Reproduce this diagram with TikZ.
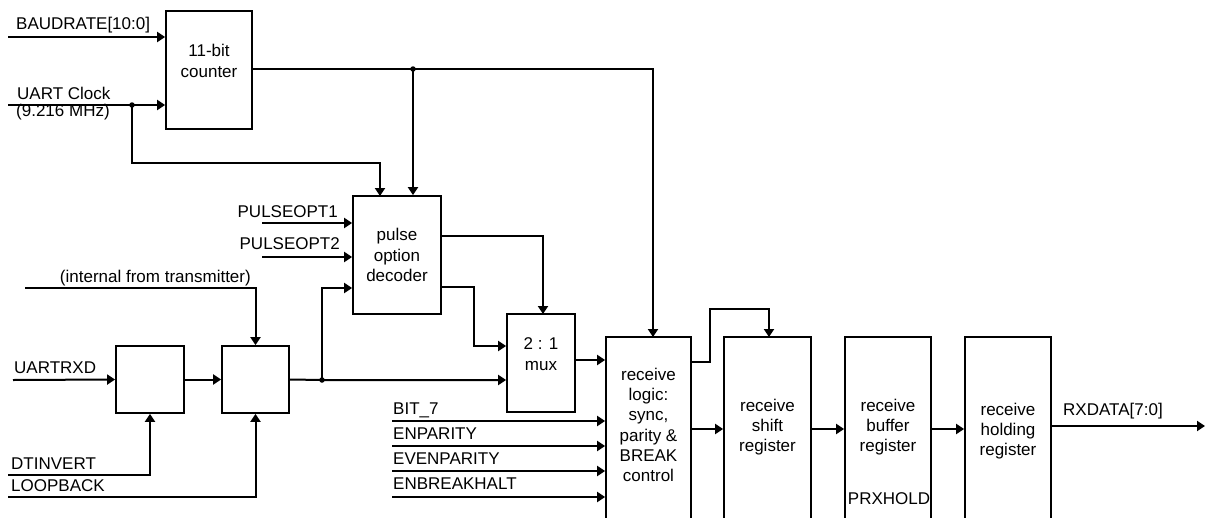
\documentclass[tikz,border=0pt]{standalone}
\usepackage{fontspec}
\setmainfont{Liberation Sans}
\usetikzlibrary{arrows.meta}
\tikzset{
  blk/.style={draw,line width=1.8pt,inner sep=0pt,minimum width=#1},
  wire/.style={line width=2pt},
  arr/.style={wire,-{Triangle[length=8pt,width=10pt]}},
  lbl/.style={inner sep=0pt,font=\fontsize{17}{20}\selectfont},
  btxt/.style={inner sep=0pt,align=center,font=\fontsize{17}{20.3}\selectfont},
  dot/.style={circle,fill,inner sep=0pt,minimum size=5.5pt}
}
\begin{document}
\begin{tikzpicture}[x=1pt,y=-1pt]
\useasboundingbox (0,0) rectangle (1205,517);
\clip (0,0) rectangle (1205,517);
% boxes
\node[blk=86pt,minimum height=118pt] (cnt) at (209,70) {};
\node[btxt] (cntt) at (209,61) {11-bit\\counter};
\node[blk=88pt,minimum height=118pt] (dec) at (397,255) {};
\node[btxt] (dect) at (397,255) {pulse\\option\\decoder};
\node[blk=68pt,minimum height=98pt] (mux) at (541,363) {};
\node[btxt] (muxt) at (541,354) {2 : 1\\mux};
\node[blk=68pt,minimum height=67pt] (inv) at (150,379.5) {};
\node[blk=67pt,minimum height=67pt] (lpb) at (255.5,379.5) {};
\node[blk=85pt,minimum height=200pt] (rl) at (648.5,437) {};
\node[btxt] (rlt) at (648.5,425) {receive\\logic:\\sync,\\parity \&\\BREAK\\control};
\node[blk=87pt,minimum height=200pt] (sr) at (767.5,437) {};
\node[btxt] (srt) at (767.5,427) {receive\\shift\\register};
\node[blk=86pt,minimum height=200pt] (br) at (888,437) {};
\node[btxt] (brt) at (888,427) {receive\\buffer\\register};
\node[lbl,anchor=base] (prx) at (889,504) {PRXHOLD};
\node[blk=86pt,minimum height=200pt] (hr) at (1008,437) {};
\node[btxt] (hrt) at (1008,431) {receive\\holding\\register};
% coordinates
\coordinate (baudin) at (8,37);
\coordinate (clkin) at (8,105);
\node[dot] (jclk) at (132,105) {};
\node[dot] (jcnt) at (413,69) {};
\coordinate (p1in) at (262,223);
\coordinate (p2in) at (262,257);
\coordinate (intin) at (25,288);
\coordinate (rxdin) at (13,380);
\coordinate (dtin) at (8,475);
\coordinate (lbin) at (8,497);
\node[dot] (jlpb) at (322,380) {};
\coordinate (rxout) at (1205,426);
% labels
\node[lbl,anchor=base west] (baudl) at (16,29) {BAUDRATE[10:0]};
\node[lbl,anchor=base west] (clkl) at (17,99) {UART Clock};
\node[lbl,anchor=base west] (clkl2) at (16,116) {(9.216 MHz)};
\node[lbl,anchor=base east] (p1l) at (338,217) {PULSEOPT1};
\node[lbl,anchor=base east] (p2l) at (340,249) {PULSEOPT2};
\node[lbl,anchor=base east] (intl) at (251,282) {(internal from transmitter)};
\node[lbl,anchor=base west] (rxdl) at (14,373) {UARTRXD};
\node[lbl,anchor=base west] (dtl) at (11,469) {DTINVERT};
\node[lbl,anchor=base west] (lbl1) at (11,491) {LOOPBACK};
\node[lbl,anchor=base west] (b7l) at (393,414) {BIT\_7};
\node[lbl,anchor=base west] (epl) at (393,439) {ENPARITY};
\node[lbl,anchor=base west] (evl) at (393,464) {EVENPARITY};
\node[lbl,anchor=base west] (ebl) at (393,489) {ENBREAKHALT};
\node[lbl,anchor=base west] (rxl) at (1063,415) {RXDATA[7:0]};
% inputs
\draw[arr] (baudin) -- (baudin -| cnt.west);
\draw[arr] (clkin) -- (clkin -| cnt.west);
\draw[arr] (jclk.center) |- (380,163) -- (380,196);
\draw[wire] (cnt.east |- jcnt) -- (jcnt.center);
\draw[arr] (jcnt.center) -- (jcnt |- dec.north);
\draw[arr] (jcnt.center) -| (653,337);
\draw[arr] (p1in) -- (p1in -| dec.west);
\draw[arr] (p2in) -- (p2in -| dec.west);
\draw[arr] (intin) -| (lpb.north);
\draw[arr] (rxdin) -- (inv.west);
\draw[arr] (inv.east) -- (lpb.west);
\draw[arr] (dtin) -| (inv.south);
\draw[arr] (lbin) -| (lpb.south);
\draw[arr] (lpb.east) -- (jlpb.center) -- (jlpb -| mux.west);
\draw[arr] (jlpb.center) |- (dec.west |- 0,288);
% decoder outputs
\draw[arr] (dec.east |- 0,236) -| (543,314);
\draw[arr] (dec.east |- 0,287) -| (474,346) -- (mux.west |- 0,346);
\draw[arr] (mux.east |- 0,360) -- (rl.west |- 0,360);
% control inputs
\draw[arr] (392,421) -- (rl.west |- 0,421);
\draw[arr] (392,446) -- (rl.west |- 0,446);
\draw[arr] (392,471) -- (rl.west |- 0,471);
\draw[arr] (392,497) -- (rl.west |- 0,497);
% chain
\draw[arr] (rl.east |- 0,362) -| (710,309) -| (769,337);
\draw[arr] (rl.east |- 0,429) -- (sr.west |- 0,429);
\draw[arr] (sr.east |- 0,429) -- (br.west |- 0,429);
\draw[arr] (br.east |- 0,429) -- (hr.west |- 0,429);
\draw[arr] (hr.east |- rxout) -- (rxout);
\end{tikzpicture}
\end{document}
